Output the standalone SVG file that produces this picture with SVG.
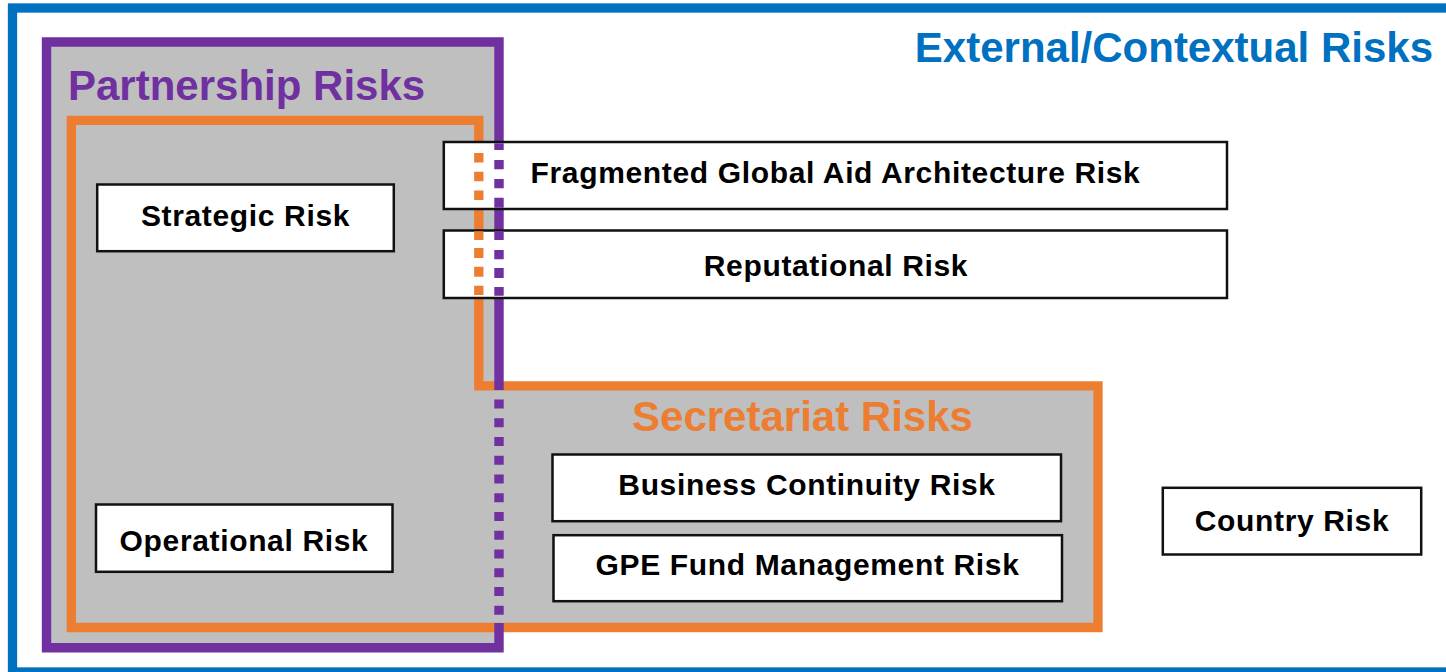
<svg xmlns="http://www.w3.org/2000/svg" width="1446" height="672" viewBox="0 0 1446 672">
  <style>
    .title { font-family: "Liberation Sans", Arial, sans-serif; font-weight: bold; font-size: 42px; }
    .box { fill: #ffffff; stroke: #111111; stroke-width: 2.5; }
    .label { font-family: "Liberation Sans", Arial, sans-serif; font-weight: bold; font-size: 30px; letter-spacing: 0.65px; fill: #000000; text-anchor: middle; }
    .purple { stroke: #7030A0; stroke-width: 9.4; fill: none; }
    .orange { stroke: #ED7D31; stroke-width: 9.3; fill: none; }
  </style>

  <rect width="1446" height="672" fill="#ffffff"/>

  <!-- External / contextual frame -->
  <g id="external">
    <rect x="12.5" y="8" width="1450" height="664" fill="none" stroke="#0070C0" stroke-width="9.3"/>
    <text class="title" x="1433" y="62" fill="#0070C0" text-anchor="end">External/Contextual Risks</text>
  </g>

  <!-- Partnership area (fill only; outline drawn after secretariat) -->
  <g id="partnership">
    <rect x="46.5" y="42" width="452.5" height="605.7" fill="#BFBFBF"/>
  </g>

  <!-- Secretariat area -->
  <g id="secretariat">
    <path class="orange" d="M71.3,120.3 H478.8 V385.9 H1098 V627.5 H71.3 Z" style="fill:#BFBFBF"/>
    <text class="title" x="802.5" y="431" fill="#ED7D31" text-anchor="middle">Secretariat Risks</text>
  </g>

  <!-- Partnership outline, dotted where it crosses the secretariat area -->
  <g id="partnership-outline">
    <path class="purple" d="M499,390 V42 H46.5 V647.7 H499 V623"/>
    <line class="purple" x1="499" y1="399.5" x2="499" y2="616" stroke-dasharray="9 9.76"/>
    <text class="title" x="68" y="100" fill="#7030A0">Partnership Risks</text>
  </g>

  <g id="strategic">
    <rect class="box" x="97.2" y="184.5" width="296.6" height="66.7"/>
    <text class="label" x="245.5" y="226">Strategic Risk</text>
  </g>

  <g id="operational">
    <rect class="box" x="96" y="504.5" width="296.5" height="67.3"/>
    <text class="label" x="244" y="550.5">Operational Risk</text>
  </g>

  <g id="fragmented">
    <rect class="box" x="443.8" y="142" width="783.2" height="67"/>
    <text class="label" x="835.5" y="182.7">Fragmented Global Aid Architecture Risk</text>
  </g>

  <g id="reputational">
    <rect class="box" x="443.8" y="230.5" width="783.2" height="67.5"/>
    <text class="label" x="836" y="276">Reputational Risk</text>
  </g>

  <g id="business-continuity">
    <rect class="box" x="552.5" y="454.5" width="508.5" height="66.7"/>
    <text class="label" x="807" y="495">Business Continuity Risk</text>
  </g>

  <g id="gpe-fund">
    <rect class="box" x="553.5" y="535.2" width="508.5" height="66"/>
    <text class="label" x="807.5" y="575">GPE Fund Management Risk</text>
  </g>

  <g id="country">
    <rect class="box" x="1162.8" y="487.8" width="258.4" height="66.7"/>
    <text class="label" x="1292" y="530.7">Country Risk</text>
  </g>

  <!-- Area boundaries shown dotted where they pass under the top boxes -->
  <g id="connectors">
    <line class="orange" x1="478.8" y1="153" x2="478.8" y2="200.5" stroke-dasharray="9.5 9.3"/>
    <line class="purple" x1="499" y1="143.3" x2="499" y2="207.7" stroke-dasharray="6.7 10 9.3 9.7 9.3 9.4 10"/>
    <line class="orange" x1="478.8" y1="231.3" x2="478.8" y2="295" stroke-dasharray="8.7 8 10 8.7 10 9 9.3 10"/>
    <line class="purple" x1="499" y1="231.3" x2="499" y2="296" stroke-dasharray="8.7 10 9.3 8.7 10 9 8.7"/>
  </g>
</svg>
